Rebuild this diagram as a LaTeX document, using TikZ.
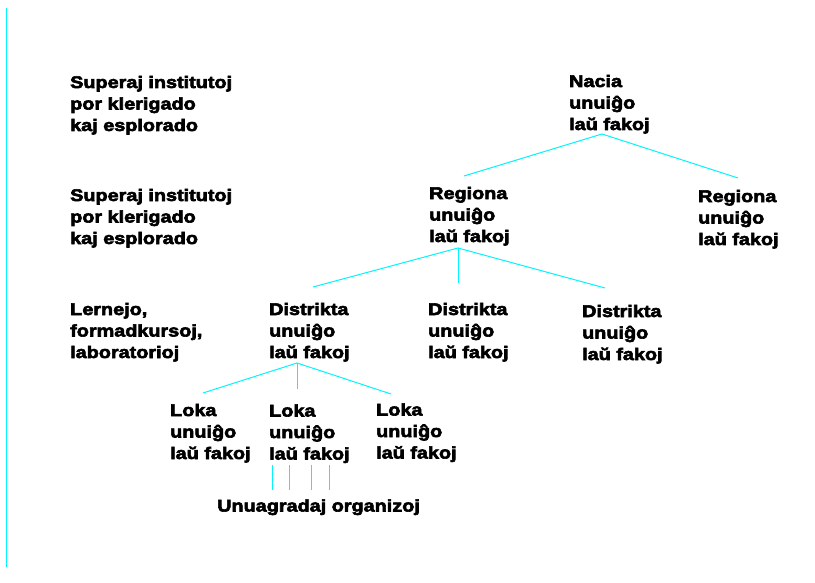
\documentclass[tikz,border=0pt]{standalone}
\usepackage{fontspec}
\newfontfamily\lblfont{Liberation Sans}[FakeStretch=1.18,FakeBold=3.5]
\definecolor{linecyan}{RGB}{0,245,255}
\begin{document}
\begin{tikzpicture}[x=1pt,y=-1pt,
  lbl/.style={anchor=base west,align=left,inner sep=0pt,
    font=\lblfont\bfseries\fontsize{16.8}{21.5}\selectfont},
  conn/.style={draw=linecyan,line width=1pt}]
\useasboundingbox[fill=white] (0,0) rectangle (815,583);
% left margin rule
\coordinate (m1) at (6.5,8);
\coordinate (m2) at (6.5,567);
\draw[conn] (m1) -- (m2);
% labels (anchored at the baseline of their last line)
\node[lbl] (sup1) at (70,131) {Superaj institutoj\\por klerigado\\kaj esplorado};
\node[lbl] (sup2) at (70,244) {Superaj institutoj\\por klerigado\\kaj esplorado};
\node[lbl] (lern) at (70,358) {Lernejo,\\formadkursoj,\\laboratorioj};
\node[lbl] (nacia) at (569,130) {Nacia\\unui\^go\\la\u{u} fakoj};
\node[lbl] (regL) at (429,242) {Regiona\\unui\^go\\la\u{u} fakoj};
\node[lbl] (regR) at (698,245) {Regiona\\unui\^go\\la\u{u} fakoj};
\node[lbl] (dis1) at (269,358) {Distrikta\\unui\^go\\la\u{u} fakoj};
\node[lbl] (dis2) at (428,358) {Distrikta\\unui\^go\\la\u{u} fakoj};
\node[lbl] (dis3) at (582,360) {Distrikta\\unui\^go\\la\u{u} fakoj};
\node[lbl] (lok1) at (170,459) {Loka\\unui\^go\\la\u{u} fakoj};
\node[lbl] (lok2) at (269,459.5) {Loka\\unui\^go\\la\u{u} fakoj};
\node[lbl] (lok3) at (376,458.5) {Loka\\unui\^go\\la\u{u} fakoj};
\node[lbl] (unua) at (217,511.5) {Unuagradaj organizoj};
% connector points
\coordinate (na) at (602,134);
\coordinate (naL) at (464,176);
\coordinate (naR) at (738,178);
\coordinate (ra) at (458,248);
\coordinate (raL) at (313,287);
\coordinate (raM) at (458,283);
\coordinate (raR) at (605,288);
\coordinate (da) at (297,363);
\coordinate (daL) at (203,393);
\coordinate (daM) at (297,389);
\coordinate (daR) at (391,394);
\foreach \x/\i in {272/1,289/2,311/3,329/4}{
  \coordinate (ut\i) at (\x,465);
  \coordinate (ub\i) at (\x,490);
}
% connectors
\draw[conn] (naL) -- (na) -- (naR);
\draw[conn] (raL) -- (ra) -- (raR);
\draw[conn] (ra) -- (raM);
\draw[conn] (daL) -- (da) -- (daR);
\draw[conn] (da) -- (daM);
\foreach \i in {1,2,3,4}{\draw[conn] (ut\i) -- (ub\i);}
\end{tikzpicture}
\end{document}
